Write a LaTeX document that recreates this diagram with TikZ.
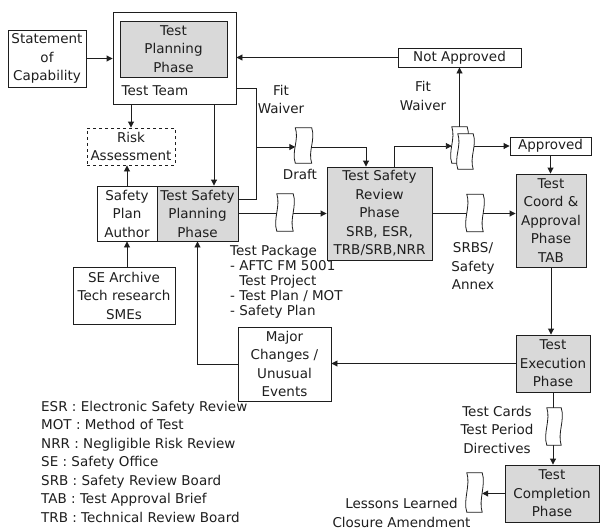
\documentclass[tikz,border=0pt]{standalone}
\usepackage{fontspec}
\setmainfont{DejaVu Sans}
\usetikzlibrary{arrows.meta,calc}
\pgfdeclarelayer{background}
\pgfsetlayers{background,main}
\definecolor{boxgray}{RGB}{217,217,217}
\definecolor{ink}{RGB}{30,30,30}
\newcommand\fs{\fontsize{13.5}{18.5}\selectfont}
\newcommand\tapenode[5]{\node[minimum width=#4pt, minimum height=#5pt, inner sep=0pt] (#1) at (#2,#3) {};}
\newcommand\tapedraw[1]{\draw[tapeline] (#1.north west) -- (#1.north east) .. controls +(4,12) and +(-4,-12) .. (#1.south east) -- (#1.south west) .. controls +(-4,-12) and +(4,12) .. (#1.north west) -- cycle;}
\tikzset{
  box/.style={draw=ink, line width=0.9pt, inner sep=0pt, align=center, font=\fs, text=ink},
  graybox/.style={box, fill=boxgray},
  lbl/.style={inner sep=0pt, align=center, font=\fs, text=ink},
  conn/.style={draw=ink, line width=0.9pt},
  arr/.style={conn, -{Triangle[length=6pt,width=6pt]}},
  tapeline/.style={draw=ink, line width=0.8pt, fill=white},
}
\begin{document}
\begin{tikzpicture}[x=1pt,y=-1pt]
\useasboundingbox (0,0) rectangle (601,530);
% boxes
\node[box, minimum width=78pt, minimum height=57pt] (stmt) at (47,58.5) {Statement\\of\\Capability};
\node[box, minimum width=123pt, minimum height=92pt] (team) at (174.5,58) {};
\node[graybox, minimum width=107pt, minimum height=56pt] (tpp) at (173.5,49) {Test\\Planning\\Phase};
\node[lbl] (teamlbl) at (155,91) {Test Team};
\node[box, dashed, minimum width=88pt, minimum height=37pt] (risk) at (131,146.5) {Risk\\Assessment};
\node[box, minimum width=60pt, minimum height=55pt] (spa) at (127,213.5) {Safety\\Plan\\Author};
\node[graybox, minimum width=81pt, minimum height=55pt] (tspp) at (197.5,213.5) {Test Safety\\Planning\\Phase};
\node[box, minimum width=102pt, minimum height=57pt] (se) at (124,295.5) {SE Archive\\Tech research\\SMEs};
\node[graybox, minimum width=105pt, minimum height=93pt] (tsr) at (379.5,213.5) {Test Safety\\Review\\Phase\\SRB, ESR,\\TRB/SRB,NRR};
\node[box, minimum width=123pt, minimum height=19pt] (na) at (459.5,57.5) {Not Approved};
\node[box, minimum width=81pt, minimum height=18pt] (ap) at (550.5,146) {Approved};
\node[graybox, minimum width=70pt, minimum height=93pt] (tca) at (551,220.5) {Test\\Coord \&\\Approval\\Phase\\TAB};
\node[graybox, minimum width=74pt, minimum height=57pt] (tex) at (553,363.5) {Test\\Execution\\Phase};
\node[box, minimum width=93pt, minimum height=74pt] (mc) at (284.5,364) {Major\\Changes /\\Unusual\\Events};
\node[graybox, minimum width=94pt, minimum height=57pt] (tcp) at (552,493.5) {Test\\Completion\\Phase};
% tapes
\tapenode{t1}{303.5}{145.5}{16}{35}
\tapenode{t2a}{459.5}{145}{15}{36}
\tapenode{t2b}{465.5}{151.5}{15}{35}
\tapenode{t3}{285}{212.5}{16}{37}
\tapenode{t4}{475}{213}{16}{37}
\tapenode{t5}{554}{426.5}{14}{37}
\tapenode{t6}{474.5}{492.5}{15}{39}
% helper coordinates
\coordinate (j1) at (256,88);
\coordinate (j2) at (256,199);
\coordinate (j3) at (256,147);
\coordinate (k1) at (366,147);
\coordinate (k2) at (394,146);
\coordinate (c1) at (214,0);
% connectors
\begin{pgfonlayer}{background}
\draw[arr] (stmt.east) -- (stmt.east -| team.west);
\draw[arr] (na.west) -- (na.west -| team.east);
\draw[arr] (risk.north |- team.south) -- (risk.north);
\draw[arr] (spa.north) -- (spa.north |- risk.south);
\draw[arr] (spa.south |- se.north) -- (spa.south);
\draw[arr] (c1 |- team.south) -- (c1 |- tspp.north);
\draw[conn] (team.east |- j1) -- (j1) -- (j2) -- (tspp.east |- j2);
\draw[arr] (j3) -- (t1.west |- j3);
\draw[arr] (t1.east |- j3) -- (k1) -- (k1 |- tsr.north);
\draw[arr] (k2 |- tsr.north) -- (k2) -- (t2a.west |- k2);
\draw[arr] (t2a.north) -- (t2a.north |- na.south);
\draw[arr] (t2b.east |- ap.west) -- (ap.west);
\draw[arr] (ap.south) -- (ap.south |- tca.north);
\draw[arr] (tspp.east) -- (tsr.west);
\draw[arr] (tsr.east) -- (tsr.east -| tca.west);
\draw[arr] (tca.south) -- (tca.south |- tex.north);
\draw[arr] (tex.west) -- (tex.west -| mc.east);
\draw[arr] (mc.west) -| (tspp.south);
\draw[arr] (tex.south) -- (tex.south |- tcp.north);
\draw[arr] (tcp.west) -- (tcp.west -| t6.east);
\end{pgfonlayer}
\tapedraw{t1}
\tapedraw{t2a}
\tapedraw{t2b}
\tapedraw{t3}
\tapedraw{t4}
\tapedraw{t5}
\tapedraw{t6}
% labels
\node[lbl] (fw1) at (281,99.5) {Fit\\Waiver};
\node[lbl] (draft) at (300,174) {Draft};
\node[lbl] (fw2) at (423,96) {Fit\\Waiver};
\node[lbl, align=left, anchor=north west, font=\fontsize{13.5}{15}\selectfont] (pkg) at (230,245) {Test Package\\- AFTC FM 5001\\\phantom{- }Test Project\\- Test Plan / MOT\\- Safety Plan};
\node[lbl] (srbs) at (473,266.5) {SRBS/\\Safety\\Annex};
\node[lbl] (cards) at (497,429.5) {Test Cards\\Test Period\\Directives};
\node[lbl] (lessons) at (401.5,513) {\hfill Lessons Learned\\Closure Amendment};
\node[lbl, align=left, anchor=north west] (legend) at (41,401) {ESR : Electronic Safety Review\\MOT : Method of Test\\NRR : Negligible Risk Review\\SE : Safety Office\\SRB : Safety Review Board\\TAB : Test Approval Brief\\TRB : Technical Review Board};
\end{tikzpicture}
\end{document}
